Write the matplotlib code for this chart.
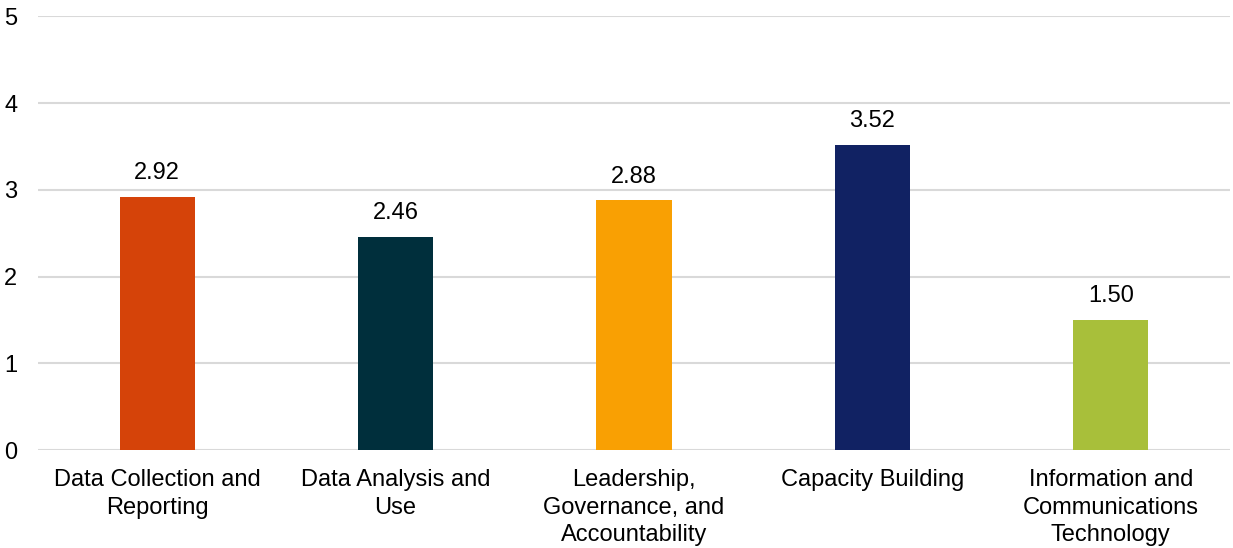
import matplotlib.pyplot as plt

plt.rcParams["font.family"] = ["Liberation Sans", "DejaVu Sans"]

categorias = [
    "Data Collection and\nReporting",
    "Data Analysis and\nUse",
    "Leadership,\nGovernance, and\nAccountability",
    "Capacity Building",
    "Information and\nCommunications\nTechnology",
]
puntajes = [2.92, 2.46, 2.88, 3.52, 1.50]
colores = ["#D54309", "#002F3C", "#F9A003", "#112263", "#A8BF3A"]

fig = plt.figure(figsize=(12.33, 5.48), dpi=100)
ax = fig.add_axes([0.0308, 0.1788, 0.9668, 0.7911])

x = range(len(categorias))
barras = ax.bar(x, puntajes, width=0.315, color=colores, zorder=3)
ax.bar_label(barras, labels=[f"{v:.2f}" for v in puntajes], padding=9, fontsize=17)

ax.set_xlim(-0.5, len(categorias) - 0.5)
ax.set_ylim(0, 5)
ax.set_yticks(range(6))
ax.set_xticks(list(x))
ax.set_xticklabels(categorias, linespacing=1.3)
ax.tick_params(axis="both", length=0, labelsize=17)
ax.tick_params(axis="x", pad=14)
ax.tick_params(axis="y", pad=15)
ax.yaxis.grid(True, color="#D9D9D9", linewidth=1.5, zorder=0)
for s in ax.spines.values():
    s.set_visible(False)

fig.savefig("out.png", dpi=100)
